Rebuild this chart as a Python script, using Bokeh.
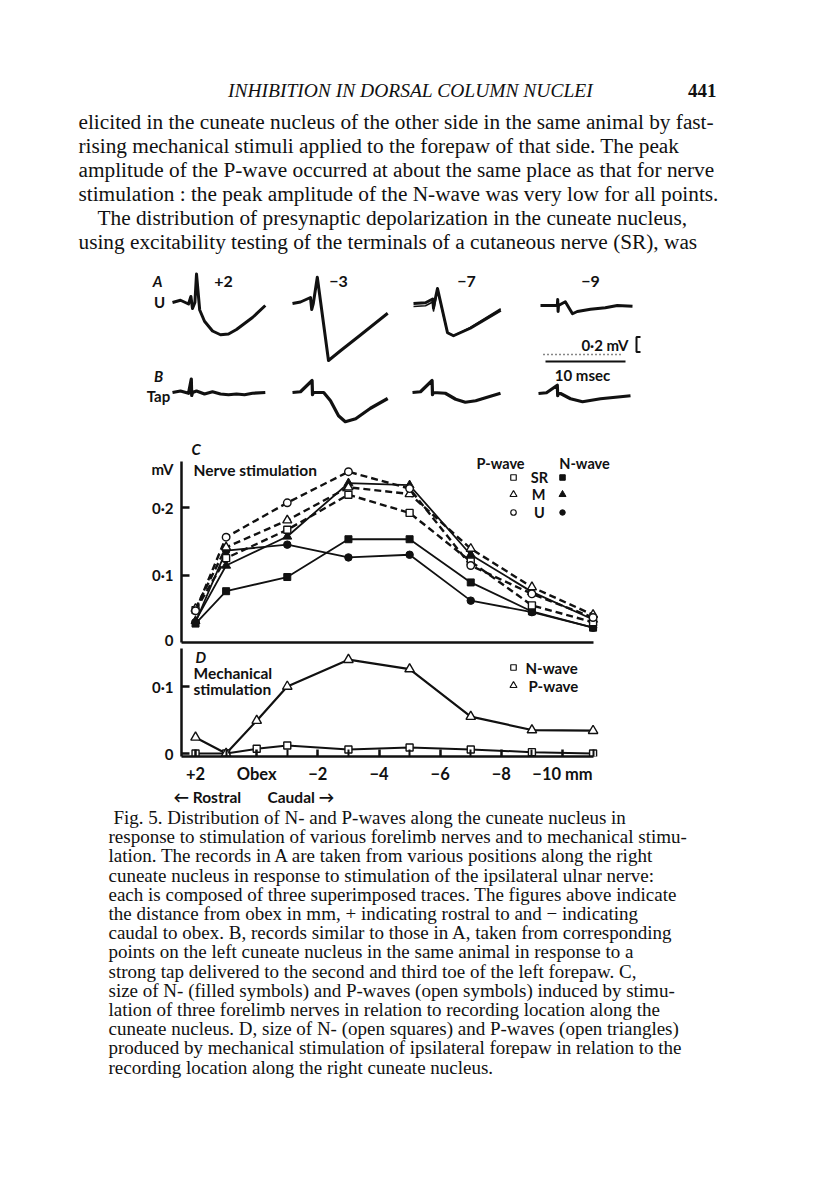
from bokeh.plotting import figure
from bokeh.models import Range1d, Label, FixedTicker, LinearAxis
from bokeh.layouts import column
from bokeh.embed import file_html
from bokeh.resources import INLINE
from bokeh.core.properties import value

# ---------------- data ----------------
# C: nerve stimulation (mV) vs distance from obex (mm, + = rostral)
c_pos = [2, 1, -1, -3, -5, -7, -9, -11]
c_sr_p = [0.048, 0.125, 0.167, 0.219, 0.192, 0.120, 0.055, 0.030]
c_m_p = [0.050, 0.141, 0.181, 0.230, 0.220, 0.139, 0.082, 0.041]
c_u_p = [0.047, 0.156, 0.207, 0.253, 0.228, 0.114, 0.072, 0.037]
c_sr_n = [0.028, 0.076, 0.097, 0.153, 0.153, 0.089, 0.046, 0.022]
c_m_n = [0.032, 0.114, 0.157, 0.236, 0.233, 0.130, 0.075, 0.034]
c_u_n = [0.030, 0.136, 0.145, 0.126, 0.130, 0.062, 0.045, 0.022]

# D: mechanical stimulation
d_pos = [2, 1, 0, -1, -3, -5, -7, -9, -11]
d_p = [0.024, 0.0, 0.049, 0.100, 0.140, 0.126, 0.055, 0.035, 0.034]
d_n = [0.0, 0.0, 0.007, 0.012, 0.006, 0.009, 0.006, 0.002, 0.0]

c_yticks = [0, 0.1, 0.2]
c_ytick_labels = ["0", "0·1", "0·2"]
c_unit = "mV"
d_yticks = [0, 0.1]
d_ytick_labels = ["0", "0·1"]
d_xticks = [2, 0, -2, -4, -6, -8, -10]
d_xtick_labels = ["+2", "Obex", "−2", "−4", "−6", "−8", "−10 mm"]
d_xminor = [1, -1, -3, -5, -7, -9, -11]

# A / B oscilloscope records: time (ms) and potential (mV)
trace_labels = ["+2", "−3", "−7", "−9"]
a_t = [
    [0, 1.0, 2.0, 2.3, 2.5, 2.8, 3.0, 3.4, 4.0, 5.0, 6.0, 7.0, 8.0, 9.0, 10.0, 11.6],
    [0, 1.0, 2.25, 2.4, 2.6, 3.1, 4.5, 6.0, 8.5, 11.9],
    [0, 1.5, 2.4, 2.5, 2.6, 3.0, 4.25, 5.0, 7.1, 10.9],
    [0, 2.1, 2.15, 2.2, 2.25, 3.1, 4.0, 4.6, 6.25, 8.1, 9.6, 11.5],
]
a_v = [
    [0, 0.03, -0.02, 0.08, -0.08, 0, 0.38, -0.10, -0.25, -0.38, -0.43, -0.42, -0.36, -0.28, -0.20, -0.04],
    [0, 0.02, 0.08, -0.08, 0, 0.35, -0.76, -0.63, -0.42, -0.13],
    [0, 0.01, 0.06, -0.06, 0, 0.20, -0.39, -0.43, -0.33, -0.09],
    [0, 0, 0.08, -0.08, 0, 0.05, -0.11, -0.08, -0.05, -0.03, 0, -0.01],
]
a7_extra_v = [0, 0.01, 0.06, -0.06, 0, 0.22, -0.35, -0.39, -0.28, -0.03]
b_t = [
    [0, 1, 2, 2.35, 2.4, 2.5, 3, 4, 5, 6, 7, 8, 9, 10, 11.6],
    [0, 1, 2.45, 2.5, 2.6, 3.9, 4.75, 5.75, 6.6, 7.9, 9.75, 11.9],
    [0, 1, 2.45, 2.5, 2.6, 4.1, 5.4, 6.6, 7.9, 9.75, 11.0],
    [0, 1, 2.35, 2.4, 2.5, 2.75, 4.0, 5.5, 7.75, 11.5],
]
b_v = [
    [0, 0.02, -0.01, 0.18, -0.04, 0, 0.02, -0.02, 0.01, -0.02, -0.03, -0.02, -0.03, -0.01, 0.0],
    [0, 0.01, 0.16, -0.03, 0, 0, -0.11, -0.31, -0.39, -0.35, -0.21, -0.08],
    [0, 0.01, 0.16, -0.03, 0, -0.01, -0.09, -0.13, -0.11, -0.05, -0.01],
    [0, 0.01, 0.11, -0.03, 0, 0, -0.07, -0.11, -0.07, -0.03],
]

header_title = "INHIBITION IN DORSAL COLUMN NUCLEI"
page_number = "441"
body_lines = [
    "elicited in the cuneate nucleus of the other side in the same animal by fast-",
    "rising mechanical stimuli applied to the forepaw of that side. The peak",
    "amplitude of the P-wave occurred at about the same place as that for nerve",
    "stimulation : the peak amplitude of the N-wave was very low for all points.",
    "The distribution of presynaptic depolarization in the cuneate nucleus,",
    "using excitability testing of the terminals of a cutaneous nerve (SR), was",
]
caption_lines = [
    "Fig. 5. Distribution of N- and P-waves along the cuneate nucleus in",
    "response to stimulation of various forelimb nerves and to mechanical stimu-",
    "lation. The records in A are taken from various positions along the right",
    "cuneate nucleus in response to stimulation of the ipsilateral ulnar nerve:",
    "each is composed of three superimposed traces. The figures above indicate",
    "the distance from obex in mm, + indicating rostral to and − indicating",
    "caudal to obex. B, records similar to those in A, taken from corresponding",
    "points on the left cuneate nucleus in the same animal in response to a",
    "strong tap delivered to the second and third toe of the left forepaw. C,",
    "size of N- (filled symbols) and P-waves (open symbols) induced by stimu-",
    "lation of three forelimb nerves in relation to recording location along the",
    "cuneate nucleus. D, size of N- (open squares) and P-waves (open triangles)",
    "produced by mechanical stimulation of ipsilateral forepaw in relation to the",
    "recording location along the right cuneate nucleus.",
]

# ---------------- layout constants (page pixels) ----------------
W = 808
C_TOP, D_TOP, CAP_TOP, CAP_BOT = 438, 648, 786, 1182

AX_LEFT, AX_END, FRAME_RIGHT = 181, 593, 622
OBEX_PX, MM_PX = 256.2, 30.58
C_ZERO, C_AX_TOP, C_FRAME_TOP, C_PX = 642, 461, 440, 675.0
D_ZERO, D_FRAME_BOT, D_PX = 753, 756, 670.0


def mm_at(px):
    return (OBEX_PX - px) / MM_PX


def c_val(py):
    return (C_ZERO - py) / C_PX


def d_val(py):
    return (D_ZERO - py) / D_PX


SERIF = "Liberation Serif"
SANS = "Lato"
INK = "#111111"


def blank_fig(h, xr, yr):
    p = figure(width=W, height=h, x_range=xr, y_range=yr, output_backend="svg",
               toolbar_location=None, x_axis_type=None, y_axis_type=None, min_border=0)
    p.frame_align = False
    p.outline_line_color = None
    p.background_fill_color = "white"
    p.border_fill_color = "white"
    return p


def lab(p, x, y, text, size="15px", style="bold", align="left", font=SANS, baseline="middle"):
    p.add_layout(Label(x=x, y=y, text=text, text_font=font, text_font_size=size,
                       text_font_style=style, text_align=align, text_baseline=baseline,
                       text_color=INK))


# ---------------- top: header, body, records A/B ----------------
pt = blank_fig(C_TOP, Range1d(0, W), Range1d(C_TOP, 0))
pt.text(x=[410], y=[90], text=[header_title], text_font=value(SERIF), text_font_size=value("19.5px"),
        text_font_style="italic", text_align="center", text_baseline="middle", text_color=INK)
pt.text(x=[716], y=[90], text=[page_number], text_font=value(SERIF), text_font_size=value("19px"),
        text_font_style="bold", text_align="right", text_baseline="middle", text_color=INK)
body_x = [78, 78, 78, 78, 97, 78]
body_y = [121 + 24 * i for i in range(len(body_lines))]
pt.text(x=body_x, y=body_y, text=body_lines, text_font=value(SERIF), text_font_size=value("21.3px"),
        text_align="left", text_baseline="middle", text_color=INK)

MS_PX, MV_PX = 8.0, 75.0
a_x0 = [172, 292, 413, 540]
a_y0 = [302, 303, 303, 305]
b_x0 = [172, 292, 412, 538]
b_y0 = [392, 392, 392, 393]
for i in range(4):
    pt.line([a_x0[i] + t * MS_PX for t in a_t[i]], [a_y0[i] - v * MV_PX for v in a_v[i]],
            line_color=INK, line_width=3, line_join="round")
    pt.line([b_x0[i] + t * MS_PX for t in b_t[i]], [b_y0[i] - v * MV_PX for v in b_v[i]],
            line_color=INK, line_width=3.2, line_join="round")
pt.line([a_x0[2] + t * MS_PX for t in a_t[2]], [a_y0[2] + 3 - v * MV_PX for v in a7_extra_v],
        line_color=INK, line_width=1.6, line_join="round")

label_x = [223, 338, 466, 590]
pt.text(x=label_x, y=[281] * 4, text=trace_labels, text_font=value(SANS), text_font_size=value("16px"),
        text_font_style="bold", text_align="center", text_baseline="middle", text_color=INK)
pt.text(x=[157, 159, 158, 158], y=[280, 301, 375, 395], text=["A", "U", "B", "Tap"],
        text_font=value(SANS), text_font_size=value("15px"),
        text_font_style=["bold italic", "bold", "bold italic", "bold"],
        text_align="center", text_baseline="middle", text_color=INK)

# scale bars: 0.2 mV and 10 msec
bx, by = 636, 344
pt.line([bx + 4, bx, bx, bx + 4], [by - 0.1 * MV_PX, by - 0.1 * MV_PX, by + 0.1 * MV_PX, by + 0.1 * MV_PX],
        line_color=INK, line_width=2)
pt.text(x=[628], y=[by], text=["0·2 mV"], text_font=value(SANS), text_font_size=value("15px"),
        text_font_style="bold", text_align="right", text_baseline="middle", text_color=INK)
pt.line([543, 543 + 10 * MS_PX], [354, 354], line_color=INK, line_width=1.5, line_dash="1 3")
pt.line([545, 545 + 10 * MS_PX], [361, 361], line_color=INK, line_width=2)
pt.text(x=[582], y=[374], text=["10 msec"], text_font=value(SANS), text_font_size=value("15px"),
        text_font_style="bold", text_align="center", text_baseline="middle", text_color=INK)


def style_axis(ax):
    ax.axis_line_width = 2.5
    ax.axis_line_color = INK
    ax.major_tick_line_width = 2.5
    ax.major_tick_line_color = INK
    ax.major_tick_in = 8
    ax.major_tick_out = 0
    ax.minor_tick_in = 7
    ax.minor_tick_out = 0
    ax.minor_tick_line_width = 2
    ax.minor_tick_line_color = INK
    ax.major_label_text_font = SANS
    ax.major_label_text_font_style = "bold"
    ax.major_label_text_font_size = "15px"
    ax.major_label_text_color = INK


x_range_mm = Range1d(mm_at(AX_LEFT), mm_at(FRAME_RIGHT))

# ---------------- C: nerve stimulation ----------------
pc = blank_fig(D_TOP - C_TOP, x_range_mm, Range1d(0, c_val(C_FRAME_TOP)))
pc.min_border_left = AX_LEFT
pc.min_border_right = W - FRAME_RIGHT
pc.min_border_top = C_FRAME_TOP - C_TOP
pc.min_border_bottom = D_TOP - C_ZERO

unit_pos = c_val(468)
cy = LinearAxis(ticker=FixedTicker(ticks=c_yticks + [unit_pos], minor_ticks=c_yticks[1:]),
                major_label_overrides=dict(zip(c_yticks + [unit_pos], c_ytick_labels + [c_unit])),
                bounds=(0, c_val(C_AX_TOP)))
style_axis(cy)
cy.major_tick_in = 0
cy.minor_tick_in = 8
cy.minor_tick_line_width = 2.5
cy.major_label_standoff = 8
pc.add_layout(cy, "left")
cx = LinearAxis(ticker=FixedTicker(ticks=[]), bounds=(mm_at(AX_LEFT), mm_at(AX_END)))
style_axis(cx)
cx.major_label_standoff = 0
pc.add_layout(cx, "below")

dash = "7 4"
pc.line(c_pos, c_u_p, line_color=INK, line_width=2.4, line_dash=dash)
pc.line(c_pos, c_m_p, line_color=INK, line_width=2.4, line_dash=dash)
pc.line(c_pos, c_sr_p, line_color=INK, line_width=2.4, line_dash=dash)
pc.line(c_pos, c_m_n, line_color=INK, line_width=1.8)
pc.line(c_pos, c_sr_n, line_color=INK, line_width=1.8)
pc.line(c_pos, c_u_n, line_color=INK, line_width=1.8)
pc.scatter(c_pos, c_sr_n, marker="square", size=7, fill_color=INK, line_color=INK)
pc.scatter(c_pos, c_m_n, marker="triangle", size=9, fill_color=INK, line_color=INK)
pc.scatter(c_pos, c_u_n, marker="circle", size=7.5, fill_color=INK, line_color=INK)
pc.scatter(c_pos, c_sr_p, marker="square", size=7, fill_color="white", line_color=INK, line_width=1.4)
pc.scatter(c_pos, c_m_p, marker="triangle", size=9, fill_color="white", line_color=INK, line_width=1.4)
pc.scatter(c_pos, c_u_p, marker="circle", size=7.5, fill_color="white", line_color=INK, line_width=1.4)

lab(pc, mm_at(191), c_val(448), "C", size="15px", style="bold italic")
lab(pc, mm_at(193), c_val(469), "Nerve stimulation", size="15.5px")
# legend
lab(pc, mm_at(500), c_val(463), "P-wave", size="14.5px", align="center")
lab(pc, mm_at(584), c_val(463), "N-wave", size="14.5px", align="center")
leg_rows_y = [c_val(477), c_val(494), c_val(512)]
lab(pc, mm_at(539), leg_rows_y[0], "SR", size="14.5px", align="center")
lab(pc, mm_at(538), leg_rows_y[1], "M", size="14.5px", align="center")
lab(pc, mm_at(539), leg_rows_y[2], "U", size="14.5px", align="center")
lx_open, lx_fill = mm_at(513), mm_at(562)
for ry, mk, sz in zip(leg_rows_y, ["square", "triangle", "circle"], [5.5, 7, 5.5]):
    pc.scatter([lx_open], [ry], marker=mk, size=sz, fill_color="white", line_color=INK, line_width=1.2)
    pc.scatter([lx_fill], [ry], marker=mk, size=sz, fill_color=INK, line_color=INK)

# ---------------- D: mechanical stimulation ----------------
pd_ = blank_fig(CAP_TOP - D_TOP, x_range_mm, Range1d(d_val(D_FRAME_BOT), d_val(D_TOP)))
pd_.min_border_left = AX_LEFT
pd_.min_border_right = W - FRAME_RIGHT
pd_.min_border_top = 0
pd_.min_border_bottom = CAP_TOP - D_FRAME_BOT

dy = LinearAxis(ticker=FixedTicker(ticks=d_yticks), major_label_overrides=dict(zip(d_yticks, d_ytick_labels)))
style_axis(dy)
dy.major_label_standoff = 8
dy.minor_tick_line_color = None
pd_.add_layout(dy, "left")
dx = LinearAxis(ticker=FixedTicker(ticks=d_xticks, minor_ticks=d_xminor),
                major_label_overrides=dict(zip(d_xticks, d_xtick_labels)),
                bounds=(mm_at(AX_LEFT), mm_at(AX_END)))
style_axis(dx)
dx.major_tick_in = 7
dx.major_label_standoff = 7
dx.major_label_text_font_size = "16.5px"
pd_.add_layout(dx, "below")

pd_.line(d_pos, d_n, line_color=INK, line_width=2)
pd_.line(d_pos, d_p, line_color=INK, line_width=2.2)
pd_.scatter(d_pos, d_n, marker="square", size=7, fill_color="white", line_color=INK, line_width=1.4)
pd_.scatter(d_pos, d_p, marker="triangle", size=9.5, fill_color="white", line_color=INK, line_width=1.4)

lab(pd_, mm_at(195), d_val(656), "D", size="15px", style="bold italic")
lab(pd_, mm_at(193), d_val(672), "Mechanical", size="15.5px")
lab(pd_, mm_at(193), d_val(688), "stimulation", size="15.5px")
pd_.scatter([mm_at(513)], [d_val(667)], marker="square", size=5.5, fill_color="white", line_color=INK, line_width=1.2)
pd_.scatter([mm_at(513)], [d_val(685)], marker="triangle", size=7, fill_color="white", line_color=INK, line_width=1.2)
lab(pd_, mm_at(525), d_val(667), "N-wave", size="15px")
lab(pd_, mm_at(528), d_val(685), "P-wave", size="15px")

# ---------------- caption (with the Rostral / Caudal note) ----------------
pb = blank_fig(CAP_BOT - CAP_TOP, Range1d(0, W), Range1d(CAP_BOT, CAP_TOP))
pb.text(x=[173, 267], y=[796, 796], text=["← Rostral", "Caudal →"], text_font=value(SANS),
        text_font_size=value("15.5px"), text_font_style="bold", text_align="left",
        text_baseline="middle", text_color=INK)
cap_x = [113] + [108] * (len(caption_lines) - 1)
cap_y = [817 + 19.2 * i for i in range(len(caption_lines))]
pb.text(x=cap_x, y=cap_y, text=caption_lines, text_font=value(SERIF), text_font_size=value("19px"),
        text_align="left", text_baseline="middle", text_color=INK)

layout = column(pt, pc, pd_, pb, spacing=0)
open("out.html", "w").write(file_html(layout, INLINE))
